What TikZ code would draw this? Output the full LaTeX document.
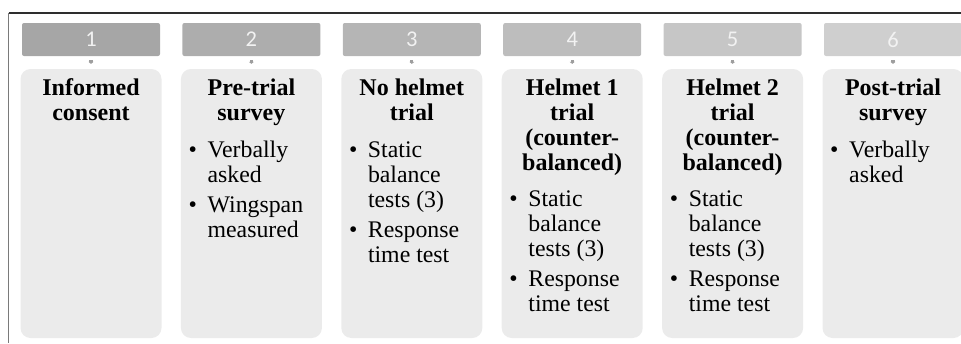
\documentclass[tikz,border=0pt]{standalone}
\usepackage{fontspec}
\setmainfont{Liberation Serif}
\newfontfamily\numfont{Carlito}
\usetikzlibrary{arrows.meta}

\definecolor{frameDark}{HTML}{2E2E2E}
\definecolor{frameSide}{HTML}{7A7A7A}
\definecolor{panelFill}{HTML}{EBEBEB}
\definecolor{connGray}{HTML}{9E9E9E}
\definecolor{hdrA}{HTML}{A6A6A6}
\definecolor{hdrB}{HTML}{ADADAD}
\definecolor{hdrC}{HTML}{B5B5B5}
\definecolor{hdrD}{HTML}{BDBDBD}
\definecolor{hdrE}{HTML}{C6C6C6}
\definecolor{hdrF}{HTML}{CFCFCF}

% bullet helpers for the step lists
\newcommand{\bul}{\makebox[19pt][l]{\textbullet}}
\newcommand{\ind}{\hspace*{19pt}}

\tikzset{
  hdr/.style={rectangle, rounded corners=2pt, minimum width=138pt, minimum height=33pt,
    inner sep=0pt, text=white!95!black, font=\numfont\fontsize{22.5}{24}\selectfont},
  panel/.style={rectangle, rounded corners=10pt, fill=panelFill, minimum width=141pt,
    minimum height=269pt, inner sep=0pt},
  ttl/.style={anchor=north, inner sep=0pt, align=center,
    font=\bfseries\fontsize{24}{24.7}\selectfont},
  lst/.style={anchor=north west, inner sep=0pt, align=left,
    font=\fontsize{23.8}{25}\selectfont},
  conn/.style={draw=connGray, line width=3.2pt, shorten <=4pt, shorten >=5pt,
    -{Triangle[width=5pt,length=2pt]}},
}

\begin{document}
\begin{tikzpicture}[x=1pt, y=-1pt]
\useasboundingbox (0,0) rectangle (961,343);

% outer frame: top rule and left rule
\coordinate (fTL) at (8.5,13);
\coordinate (fTR) at (961,13);
\coordinate (fBL) at (8.5,343);
\draw[frameSide, line width=1.2pt] (fTL) -- (fBL);
\draw[frameDark, line width=1.3pt] (fTL) -- (fTR);

% numbered header bars
\node[hdr, fill=hdrA] (h1) at (91,   39.5) {1};
\node[hdr, fill=hdrB] (h2) at (251.4,39.5) {2};
\node[hdr, fill=hdrC] (h3) at (411.8,39.5) {3};
\node[hdr, fill=hdrD] (h4) at (572.2,39.5) {4};
\node[hdr, fill=hdrE] (h5) at (732.6,39.5) {5};
\node[hdr, fill=hdrF] (h6) at (893,  39.5) {6};

% step panels
\node[panel] (b1) at (91,   203.5) {};
\node[panel] (b2) at (251.4,203.5) {};
\node[panel] (b3) at (411.8,203.5) {};
\node[panel] (b4) at (572.2,203.5) {};
\node[panel] (b5) at (732.6,203.5) {};
\node[panel] (b6) at (893,  203.5) {};

% header-to-panel connectors
\foreach \i in {1,...,6} \draw[conn] (h\i.south) -- (b\i.north);

% panel titles (first baseline at y = 96)
\node[ttl] (t1) at (91,   78.5) {\strut Informed\\consent};
\node[ttl] (t2) at (251.4,78.5) {\strut Pre-trial\\survey};
\node[ttl] (t3) at (411.8,78.5) {\strut No helmet\\trial};
\node[ttl] (t4) at (572.2,78.5) {\strut Helmet 1\\trial\\(counter-\\balanced)};
\node[ttl] (t5) at (732.6,78.5) {\strut Helmet 2\\trial\\(counter-\\balanced)};
\node[ttl] (t6) at (893,  78.5) {\strut Post-trial\\survey};

% bullet lists
\node[lst] (l2) at (251.4-63,139.5) {\strut\bul Verbally\\\ind asked\\[5pt]\bul Wingspan\\\ind measured};
\node[lst] (l3) at (411.8-63,139.5) {\strut\bul Static\\\ind balance\\\ind tests (3)\\[5pt]\bul Response\\\ind time test};
\node[lst] (l4) at (572.2-63,188.5) {\strut\bul Static\\\ind balance\\\ind tests (3)\\[5pt]\bul Response\\\ind time test};
\node[lst] (l5) at (732.6-63,188.5) {\strut\bul Static\\\ind balance\\\ind tests (3)\\[5pt]\bul Response\\\ind time test};
\node[lst] (l6) at (893-63,  139.5) {\strut\bul Verbally\\\ind asked};
\end{tikzpicture}
\end{document}
